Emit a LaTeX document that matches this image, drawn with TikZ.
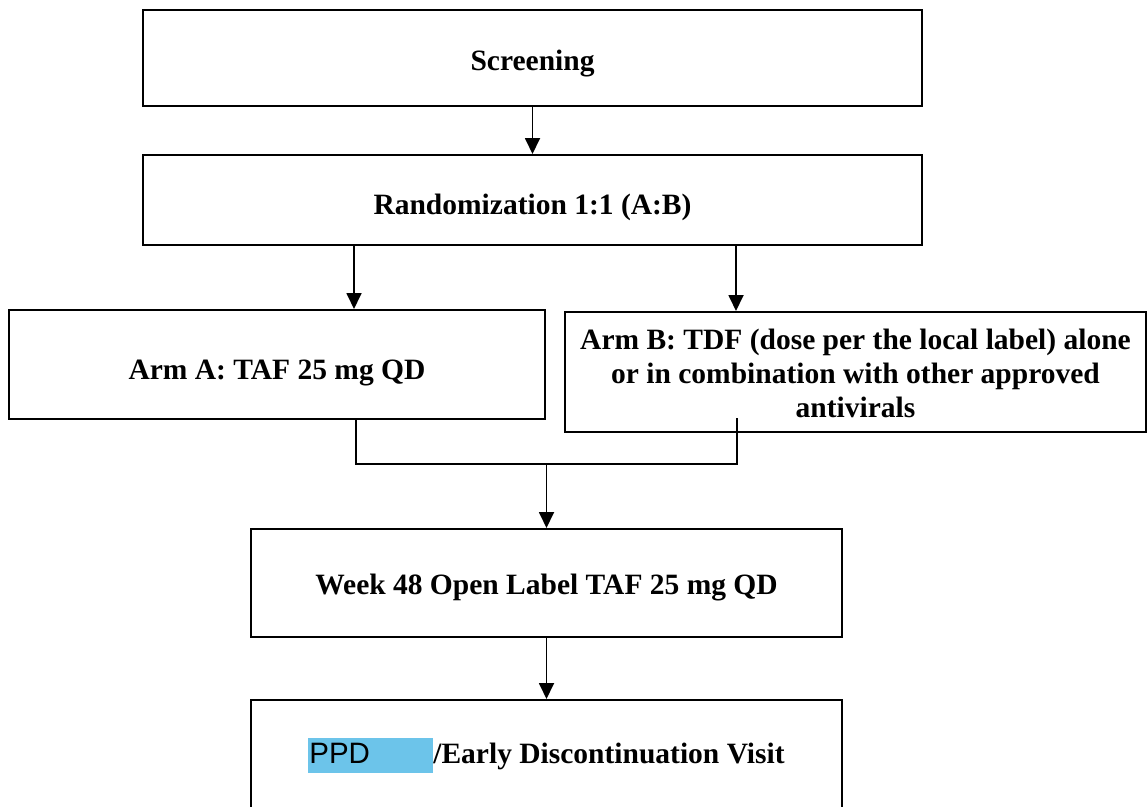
\documentclass[tikz,border=0pt]{standalone}
\usepackage{fontspec}
\setmainfont{Liberation Serif}
\setsansfont{Liberation Sans}
\usetikzlibrary{arrows.meta}
\definecolor{hlblue}{RGB}{108,196,234}
\newcommand{\lowtext}[2]{\raisebox{-#1pt}[\height][\depth]{#2}}
\begin{document}
\begin{tikzpicture}[x=1pt,y=-1pt,
  box/.style={draw=black, line width=2pt, inner sep=0pt, fill=white,
    font=\fontsize{29.5}{34}\selectfont\bfseries, align=center},
  arr/.style={line width=1.8pt, -{Triangle[length=16pt,width=15pt]}},
  conn/.style={line width=2.4pt}]
\useasboundingbox[fill=white] (0,0) rectangle (1148,806);

\node[box, minimum width=779pt, minimum height=96pt] (scr) at (532.5,57.5) {\lowtext{6}{Screening}};
\node[box, minimum width=779pt, minimum height=90pt] (rnd) at (532.5,200) {\lowtext{7}{Randomization 1:1 (A:B)}};
\node[box, minimum width=536pt, minimum height=109pt] (armA) at (277,364.5) {\lowtext{8}{Arm A: TAF 25 mg QD}};
\node[box, minimum width=581pt, minimum height=120pt] (armB) at (855.5,372) {\lowtext{5}{\begin{tabular}{@{}c@{}}Arm B: TDF (dose per the local label) alone\\ or in combination with other approved\\ antivirals\end{tabular}}};
\node[box, minimum width=591pt, minimum height=108pt] (wk) at (546.5,583) {\lowtext{5}{Week 48 Open Label TAF 25 mg QD}};
\node[box, minimum width=591pt, minimum height=110pt] (ppd) at (546.5,755)
  {{\mdseries\sffamily\fboxsep=0pt\colorbox{hlblue}{\makebox[125pt][l]{\rule[-9pt]{0pt}{35pt}\hspace{1pt}PPD}}}/Early Discontinuation Visit};

\coordinate (aA) at (354,0);
\coordinate (aB) at (736,0);
\coordinate (cA) at (356,464);
\coordinate (cB) at (737,464);
\coordinate (cBtop) at (737,418);

\draw[arr] (scr.south) -- (rnd.north);
\draw[arr] (rnd.south -| aA) -- (armA.north -| aA);
\draw[arr] (rnd.south -| aB) -- (armB.north -| aB);
\draw[conn] (armA.south -| cA) -- (cA) -- (cB) -- (cBtop);
\draw[arr] (wk.north |- cA) -- (wk.north);
\draw[arr] (wk.south) -- (ppd.north);
\end{tikzpicture}
\end{document}
